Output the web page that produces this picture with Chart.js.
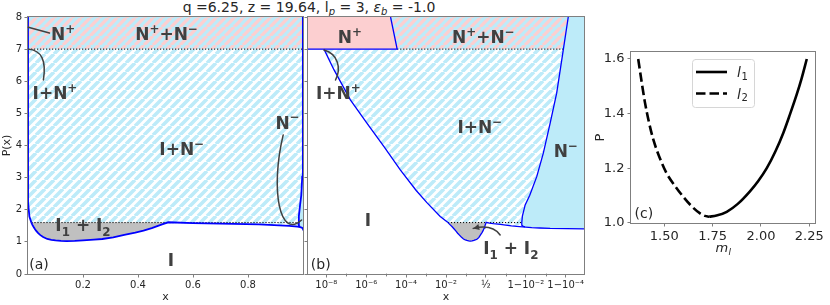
<!DOCTYPE html>
<html><head><meta charset="utf-8">
<script src="https://cdn.jsdelivr.net/npm/chart.js@4/dist/chart.umd.min.js"></script>
<style>
html,body{margin:0;padding:0;background:#fff;width:830px;height:305px;overflow:hidden;position:relative}
canvas{position:absolute;top:0}
#title{position:absolute;left:0;top:0;width:618px;text-align:center;font:14px "DejaVu Sans";color:#262626;line-height:14px;white-space:nowrap}
#title sub{font-size:10px;vertical-align:-3px;line-height:0}
</style></head><body>
<div id="title">q =6.25, z = 19.64, l<sub><i>p</i></sub> = 3, <i>ε</i><sub><i>b</i></sub> = -1.0</div>
<canvas id="ca" width="306" height="305" style="left:0px"></canvas>
<canvas id="cb" width="290" height="305" style="left:300px"></canvas>
<canvas id="cc" width="240" height="305" style="left:590px"></canvas>
<script>
// ================= DATA =================
// phase-boundary curves, x = composition, P = P(x)
const leftCurveX = [7.6e-9, 2.4e-8, 1.6e-7, 1.1e-6, 7.6e-6, 5.1e-5, 3.2e-4, 1.1e-3, 5.1e-3, 0.0124];
const leftCurveP = [7.0, 6.36, 5.42, 4.69, 3.97, 3.24, 2.6, 2.22, 1.79, 1.6];
const grayX = [0.0124, 0.016, 0.02, 0.025, 0.03, 0.037, 0.045, 0.055, 0.07, 0.085, 0.1, 0.12, 0.14, 0.17, 0.2, 0.24, 0.27, 0.31, 0.35, 0.39, 0.42, 0.45, 0.47, 0.49, 0.51];
const grayP = [1.6, 1.53, 1.47, 1.40, 1.34, 1.27, 1.21, 1.15, 1.09, 1.065, 1.045, 1.03, 1.022, 1.028, 1.045, 1.07, 1.09, 1.14, 1.22, 1.29, 1.35, 1.43, 1.49, 1.55, 1.61];
const rightBottomX = [0.51, 0.6, 0.7, 0.84, 0.95, 0.98, 0.99, 0.995, 0.998, 0.9994, 0.99999, 0.9999999];
const rightBottomP = [1.61, 1.585, 1.565, 1.545, 1.5, 1.475, 1.46, 1.445, 1.432, 1.42, 1.405, 1.40];
const nMinusX = [0.9844, 0.98543, 0.9894, 0.99373, 0.99719, 0.998684, 0.999398, 0.999718, 0.999868, 0.999926];
const nMinusP = [1.6, 1.8, 2.15, 2.45, 3.03, 3.76, 4.69, 5.63, 6.97, 8.0];
const nMinusFootX = [0.9844, 0.9847, 0.9861, 0.9891, 0.995, 0.998, 0.9994, 0.99999, 0.9999999];
const nMinusFootP = [1.6, 1.52, 1.49, 1.47, 1.445, 1.432, 1.42, 1.405, 1.40];
const nPlusX = [1e-10, 1.66e-5, 3.55e-5];
const nPlusP = [8, 8, 7];
const edgeX = [1e-10, 0.9999999];
const levelTop = 8, levelN = 7, levelI = 1.6;
const dottedHighX = [3.55e-5, 0.999868];
const dottedLowX = [0.0124, 0.9844];
// ticks
const yTicks = [0, 1, 2, 3, 4, 5, 6, 7, 8];
const aXTicks = [0.2, 0.4, 0.6, 0.8];
const bXTicks = [-8, -6, -4, -2, 0, 2, 4];
const bXTickLabels = ['10⁻⁸', '10⁻⁶', '10⁻⁴', '10⁻²', '½', '1−10⁻²', '1−10⁻⁴'];
const bMinorTicks = [-7, -5, -3, -1, 1, 3];
// panel (c)
const l1M = [1.732, 1.77, 1.823, 1.88, 1.943, 1.985, 2.03, 2.075, 2.116, 2.15, 2.185, 2.21, 2.237];
const l1P = [1.022, 1.026, 1.040, 1.069, 1.115, 1.152, 1.20, 1.262, 1.33, 1.397, 1.47, 1.528, 1.60];
const l2M = [1.365, 1.383, 1.40, 1.42, 1.443, 1.475, 1.512, 1.555, 1.598, 1.642, 1.685, 1.71, 1.732];
const l2P = [1.60, 1.515, 1.44, 1.37, 1.305, 1.24, 1.181, 1.135, 1.095, 1.06, 1.034, 1.025, 1.022];
const cXTicks = [1.5, 1.75, 2.0, 2.25];
const cXTickLabels = ['1.50', '1.75', '2.00', '2.25'];
const cYTicks = [1.0, 1.2, 1.4, 1.6];
const cYTickLabels = ['1.0', '1.2', '1.4', '1.6'];

// ================= STYLE =================
const FAM = '"DejaVu Sans"';
const TXT = '#262626', SPINE = '#7f7f7f', BLUE = '#0000ff';
const CYAN = '#bdebf9', PINK = '#fccfd0', GRAY = '#c0c0c0', LABEL = '#404040';
const LBL = 17, LBL_WEIGHT = 'bold';
Chart.defaults.font.family = FAM;

const logit10 = x => Math.log10(x / (1 - x));
const ident = x => x;
const pts = (xs, ps, fx) => xs.map((x, i) => ({x: fx(x), y: ps[i]}));

function stripes(ctxT, bg, fg, p, w) {
  const c = document.createElement('canvas'); c.width = p; c.height = p;
  const g = c.getContext('2d');
  g.fillStyle = bg; g.fillRect(0, 0, p, p);
  g.strokeStyle = fg; g.lineWidth = w;
  g.beginPath();
  for (let k = -1; k <= 1; k++) { g.moveTo(k * p, p); g.lineTo(k * p + p, 0); }
  g.stroke();
  return ctxT.createPattern(c, 'repeat');
}

function phaseDatasets(fx, ctxT, blueW) {
  const patBand = stripes(ctxT, CYAN, PINK, 9, 3.3);
  const patINm = stripes(ctxT, '#ffffff', CYAN, 9, 3.6);
  const L = (data, o) => Object.assign({data, pointRadius: 0, pointHoverRadius: 0, borderWidth: 0, fill: false, tension: 0}, o);
  const ds = [];
  ds.push(L(pts(edgeX, [levelTop, levelTop], fx), {fill: {value: levelN}, backgroundColor: patBand, order: 20}));
  const rb = rightBottomX.map((x, i) => [x, rightBottomP[i]]).filter(q => q[0] <= 0.98);
  const nm = nMinusX.map((x, i) => [x, nMinusP[i]]).filter(q => q[1] < levelN);
  const lowX = leftCurveX.concat(rb.map(q => q[0]), nm.map(q => q[0]));
  const lowP = leftCurveP.concat(rb.map(q => q[1]), nm.map(q => q[1]));
  ds.push(L(pts(lowX, lowP, fx), {fill: {value: levelN}, backgroundColor: patINm, order: 19}));
  ds.push(L(pts(grayX, grayP, fx), {fill: {value: levelI}, backgroundColor: GRAY, order: 18}));
  ds.push(L(pts(nPlusX, nPlusP, fx), {fill: {value: levelN}, backgroundColor: PINK, order: 17}));
  const footIdx = ds.length;
  ds.push(L(pts(nMinusFootX, nMinusFootP, fx), {order: 16}));
  ds.push(L(pts(nMinusX.concat([edgeX[1]]), nMinusP.concat([levelTop]), fx), {fill: footIdx, backgroundColor: CYAN, order: 15}));
  const dot = {borderWidth: 1, borderColor: '#000', borderDash: [1.2, 1.8], order: 5};
  ds.push(L(pts(dottedHighX, [levelN, levelN], fx), dot));
  ds.push(L(pts(dottedLowX, [levelI, levelI], fx), dot));
  const blue = {borderWidth: blueW, borderColor: BLUE, order: 1};
  ds.push(L(pts(leftCurveX, leftCurveP, fx), blue));
  ds.push(L(pts(grayX.concat(rightBottomX.slice(1)), grayP.concat(rightBottomP.slice(1)), fx), blue));
  ds.push(L(pts(nMinusFootX.slice(0, 4).reverse().concat(nMinusX.slice(1)), nMinusFootP.slice(0, 4).reverse().concat(nMinusP.slice(1)), fx), blue));
  ds.push(L(pts([edgeX[0], nPlusX[2], nPlusX[1]], [levelN, levelN, levelTop], fx), blue));
  return ds;
}

function drawRich(ctx, segs, cx, cy, size, color, weight) {
  const wt = weight ? weight + ' ' : '';
  let w = 0;
  const parts = segs.map(([t, m]) => {
    const s = m ? size * 0.7 : size;
    ctx.font = `${wt}${s}px ${FAM}`;
    const tw = ctx.measureText(t).width; w += tw;
    return {t, m, s, tw};
  });
  let x = cx - w / 2;
  const base = cy + size * 0.365;
  ctx.fillStyle = color; ctx.textBaseline = 'alphabetic'; ctx.textAlign = 'left';
  for (const p of parts) {
    ctx.font = `${wt}${p.s}px ${FAM}`;
    const dy = p.m === 1 ? -size * 0.42 : (p.m === -1 ? size * 0.28 : 0);
    ctx.fillText(p.t, x, base + dy);
    x += p.tw;
  }
}

function decoPlugin(cfg) {
  return {
    id: 'deco',
    beforeDatasetsDraw(chart) {
      const {ctx, chartArea: a} = chart;
      ctx.save(); ctx.strokeStyle = SPINE; ctx.lineWidth = 1;
      ctx.strokeRect(a.left - 0.5, a.top - 0.5, a.right - a.left + 1, a.bottom - a.top + 1);
      ctx.restore();
    },
    afterDatasetsDraw(chart) {
      const {ctx} = chart;
      const sx = chart.scales.x, sy = chart.scales.y;
      const P = q => [sx.getPixelForValue(q[0]), sy.getPixelForValue(q[1])];
      ctx.save();
      ctx.strokeStyle = LABEL; ctx.fillStyle = LABEL; ctx.lineWidth = 1.5; ctx.lineCap = 'round';
      for (const c of (cfg.connectors || [])) {
        const p = c.pts.map(P);
        ctx.beginPath(); ctx.moveTo(p[0][0], p[0][1]);
        if (p.length === 2) ctx.lineTo(p[1][0], p[1][1]);
        else if (p.length === 3) ctx.quadraticCurveTo(p[1][0], p[1][1], p[2][0], p[2][1]);
        else ctx.bezierCurveTo(p[1][0], p[1][1], p[2][0], p[2][1], p[3][0], p[3][1]);
        ctx.stroke();
        if (c.arrow) {
          const e = p[p.length - 1], b = p[p.length - 2];
          const ang = Math.atan2(e[1] - b[1], e[0] - b[0]);
          ctx.beginPath();
          ctx.moveTo(e[0], e[1]);
          ctx.lineTo(e[0] - 6 * Math.cos(ang) + 3 * Math.sin(ang), e[1] - 6 * Math.sin(ang) - 3 * Math.cos(ang));
          ctx.lineTo(e[0] - 6 * Math.cos(ang) - 3 * Math.sin(ang), e[1] - 6 * Math.sin(ang) + 3 * Math.cos(ang));
          ctx.closePath(); ctx.fill();
        }
      }
      for (const l of (cfg.labels || [])) {
        const [px, py] = P(l.at);
        drawRich(ctx, l.segs, px, py, l.size || LBL, l.color || LABEL, l.size ? '' : LBL_WEIGHT);
      }
      if (cfg.extra) cfg.extra(chart);
      ctx.restore();
    }
  };
}

function axisCommon(size) {
  return {
    grid: {drawOnChartArea: false, tickLength: 3.5, tickColor: SPINE, tickWidth: 1},
    border: {display: false},
    ticks: {autoSkip: false, maxRotation: 0, color: TXT, font: {size, family: FAM}}
  };
}

// ================= PANEL (a) =================
const aLabels = [
  {at: [0.128, 7.48], segs: [['N', 0], ['+', 1]]},
  {at: [0.504, 7.48], segs: [['N', 0], ['+', 1], ['+', 0], ['N', 0], ['−', 1]]},
  {at: [0.098, 5.65], segs: [['I+N', 0], ['+', 1]]},
  {at: [0.559, 3.89], segs: [['I+N', 0], ['−', 1]]},
  {at: [0.944, 4.72], segs: [['N', 0], ['−', 1]]},
  {at: [0.2, 1.53], segs: [['I', 0], ['1', -1], [' + I', 0], ['2', -1]]},
  {at: [0.52, 0.45], segs: [['I', 0]]},
  {at: [0.04, 0.31], segs: [['(a)', 0]], size: 14, color: TXT}
];
const aConnectors = [
  {pts: [[0.001, 7.68], [0.078, 7.5]]},
  {pts: [[0.001, 7.0], [0.073, 6.95], [0.056, 6.04]]},
  {pts: [[0.928, 4.33], [0.88, 2.62], [0.916, 1.06], [0.995, 1.68]]}
];
const ctxA = document.getElementById('ca').getContext('2d');
const ca = axisCommon(10);
new Chart(ctxA, {
  type: 'line',
  data: {datasets: phaseDatasets(ident, ctxA, 1.8)},
  options: {
    responsive: false, animation: false, devicePixelRatio: 1, events: [],
    layout: {padding: {left: 0, right: 3, top: 17, bottom: 0}},
    plugins: {legend: {display: false}, tooltip: {enabled: false}},
    scales: {
      x: {type: 'linear', min: 0, max: 1, grid: ca.grid, border: ca.border,
        afterBuildTicks: s => { s.ticks = aXTicks.map(v => ({value: v})); },
        afterFit: s => { s.height = 31; },
        ticks: Object.assign({}, ca.ticks, {padding: 2, callback: v => v.toFixed(1)}),
        title: {display: true, text: 'x', color: TXT, font: {size: 11}, padding: {top: 0, bottom: 1}}},
      y: {type: 'linear', min: 0, max: 8, grid: ca.grid, border: ca.border,
        afterBuildTicks: s => { s.ticks = yTicks.map(v => ({value: v})); },
        afterFit: s => { s.width = 28; },
        ticks: Object.assign({}, ca.ticks, {padding: 2.5, callback: v => String(v)}),
        title: {display: true, text: 'P(x)', color: TXT, font: {size: 11}, padding: {top: 0.5, bottom: 0}}}
    }
  },
  plugins: [decoPlugin({labels: aLabels, connectors: aConnectors})]
});

// ================= PANEL (b) =================
const bLabels = [
  {at: [-6.82, 7.37], segs: [['N', 0], ['+', 1]]},
  {at: [-0.13, 7.37], segs: [['N', 0], ['+', 1], ['+', 0], ['N', 0], ['−', 1]]},
  {at: [-7.4, 5.63], segs: [['I+N', 0], ['+', 1]]},
  {at: [-0.3, 4.59], segs: [['I+N', 0], ['−', 1]]},
  {at: [4.01, 3.84], segs: [['N', 0], ['−', 1]]},
  {at: [-5.91, 1.70], segs: [['I', 0]]},
  {at: [1.25, 0.81], segs: [['I', 0], ['1', -1], [' + I', 0], ['2', -1]]},
  {at: [-8.28, 0.33], segs: [['(b)', 0]], size: 14, color: TXT}
];
const bConnectors = [
  {pts: [[-8.12, 6.97], [-7.43, 6.85], [-7.23, 6.42], [-7.54, 6.04]]},
  {pts: [[0.715, 1.215], [0.315, 1.56], [-0.635, 1.42]], arrow: true}
];
const ctxB = document.getElementById('cb').getContext('2d');
new Chart(ctxB, {
  type: 'line',
  data: {datasets: phaseDatasets(logit10, ctxB, 1.3)},
  options: {
    responsive: false, animation: false, devicePixelRatio: 1, events: [],
    layout: {padding: {left: 0, right: 6, top: 17, bottom: 0}},
    plugins: {legend: {display: false}, tooltip: {enabled: false}},
    scales: {
      x: {type: 'linear', min: -8.92, max: 4.92, grid: ca.grid, border: ca.border,
        afterBuildTicks: s => { s.ticks = bXTicks.map(v => ({value: v})); },
        afterFit: s => { s.height = 31; },
        ticks: Object.assign({}, ca.ticks, {padding: 2, callback: (v, i) => bXTickLabels[i]}),
        title: {display: true, text: 'x', color: TXT, font: {size: 11}, padding: {top: 0, bottom: 1}}},
      y: {type: 'linear', min: 0, max: 8, grid: ca.grid, border: ca.border,
        afterBuildTicks: s => { s.ticks = yTicks.map(v => ({value: v})); },
        afterFit: s => { s.width = 8; },
        ticks: Object.assign({}, ca.ticks, {padding: 0, callback: () => ''})}
    }
  },
  plugins: [decoPlugin({labels: bLabels, connectors: bConnectors, extra: chart => {
    const {ctx, chartArea: a} = chart; const sx = chart.scales.x;
    ctx.strokeStyle = SPINE; ctx.lineWidth = 1;
    for (const v of bMinorTicks) {
      const px = Math.round(sx.getPixelForValue(v)) + 0.5;
      ctx.beginPath(); ctx.moveTo(px, a.bottom); ctx.lineTo(px, a.bottom + 2); ctx.stroke();
    }
  }})]
});

// ================= PANEL (c) =================
const cLegend = [['l', '1', []], ['l', '2', [9.5, 4]]];
const ctxC = document.getElementById('cc').getContext('2d');
const cc = axisCommon(13);
new Chart(ctxC, {
  type: 'line',
  data: {datasets: [
    {data: pts(l1M, l1P, ident), borderColor: '#000', borderWidth: 2.6, pointRadius: 0, fill: false, cubicInterpolationMode: 'monotone'},
    {data: pts(l2M, l2P, ident), borderColor: '#000', borderWidth: 2.6, borderDash: [9.5, 4], pointRadius: 0, fill: false, cubicInterpolationMode: 'monotone'}
  ]},
  options: {
    responsive: false, animation: false, devicePixelRatio: 1, events: [],
    layout: {padding: {left: 0, right: 15, top: 52, bottom: 42}},
    plugins: {legend: {display: false}, tooltip: {enabled: false}},
    scales: {
      x: {type: 'linear', min: 1.3277, max: 2.2795, grid: cc.grid, border: cc.border,
        afterBuildTicks: s => { s.ticks = cXTicks.map(v => ({value: v})); },
        afterFit: s => { s.height = 40; },
        ticks: Object.assign({}, cc.ticks, {padding: 2.5, callback: (v, i) => cXTickLabels[i]})},
      y: {type: 'linear', min: 0.9989, max: 1.6256, grid: cc.grid, border: cc.border,
        afterBuildTicks: s => { s.ticks = cYTicks.map(v => ({value: v})); },
        afterFit: s => { s.width = 41; },
        ticks: Object.assign({}, cc.ticks, {padding: 3, callback: (v, i) => cYTickLabels[i]}),
        title: {display: true, text: 'P', color: TXT, font: {size: 13}, padding: {top: 3, bottom: 0}}}
    }
  },
  plugins: [decoPlugin({labels: [{at: [1.394, 1.037], segs: [['(c)', 0]], size: 14, color: TXT}], extra: chart => {
    const {ctx, chartArea: a} = chart;
    // legend box
    const bx = a.left + 61, by = a.top + 7, bw = 62, bh = 48;
    ctx.fillStyle = 'rgba(255,255,255,0.85)'; ctx.strokeStyle = '#d6d6d6'; ctx.lineWidth = 1;
    ctx.beginPath(); ctx.roundRect(bx + 0.5, by + 0.5, bw, bh, 3); ctx.fill(); ctx.stroke();
    cLegend.forEach((it, i) => {
      const y = by + 13 + i * 21.5;
      ctx.strokeStyle = '#000'; ctx.lineWidth = 2.6; ctx.lineCap = 'butt'; ctx.setLineDash(it[2]);
      ctx.beginPath(); ctx.moveTo(bx + 4, y); ctx.lineTo(bx + 35, y); ctx.stroke();
      ctx.setLineDash([]);
      ctx.fillStyle = TXT; ctx.textAlign = 'left'; ctx.textBaseline = 'alphabetic';
      ctx.font = `italic 14px ${FAM}`; ctx.fillText(it[0], bx + 45, y + 5);
      const w = ctx.measureText(it[0]).width;
      ctx.font = `10px ${FAM}`; ctx.fillText(it[1], bx + 45 + w + 0.5, y + 7.5);
    });
    // x-axis title m_l
    ctx.fillStyle = TXT; ctx.textAlign = 'left'; ctx.textBaseline = 'alphabetic';
    ctx.font = `italic 13px ${FAM}`; const wm = ctx.measureText('m').width;
    ctx.font = `italic 9px ${FAM}`; const wl = ctx.measureText('l').width;
    const x0 = (a.left + a.right) / 2 - (wm + wl) / 2;
    ctx.font = `italic 13px ${FAM}`; ctx.fillText('m', x0, 252);
    ctx.font = `italic 9px ${FAM}`; ctx.fillText('l', x0 + wm + 0.5, 255);
  }})]
});
</script>
</body></html>
